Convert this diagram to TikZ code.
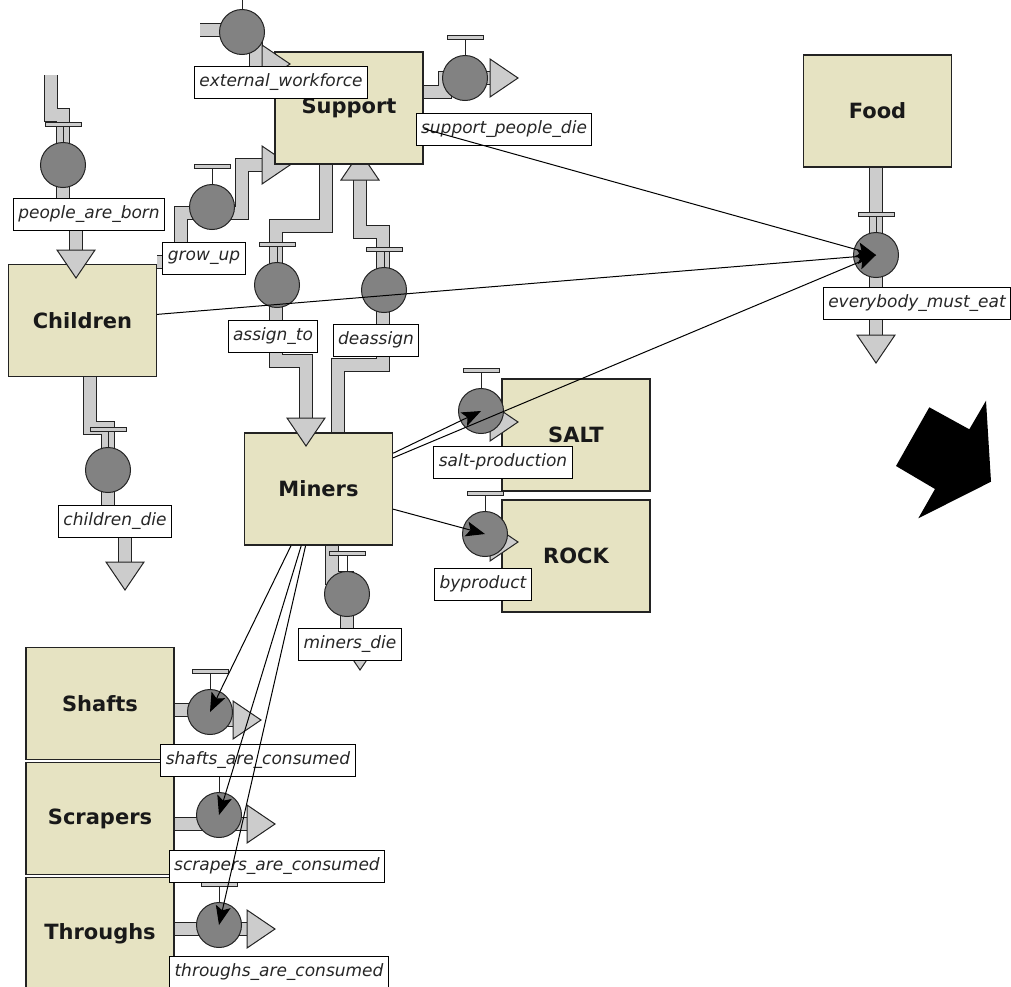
\documentclass[tikz,border=0pt]{standalone}
\usepackage{fontspec}
\setmainfont{DejaVu Sans}
\usetikzlibrary{arrows.meta}
\definecolor{stockfill}{RGB}{230,227,194}
\definecolor{pipegray}{RGB}{204,204,204}
\definecolor{valvegray}{RGB}{130,130,130}
\definecolor{edge}{RGB}{35,35,35}
\tikzstyle{stock} = [rectangle, draw=edge, line width=1.3pt, fill=stockfill, minimum width=148pt,
minimum height=112pt, inner sep=0pt, font=\bfseries\fontsize{21}{24}\selectfont, text=black!90]
\tikzstyle{valve} = [circle, draw=edge, line width=1pt, fill=valvegray, minimum size=45pt, inner sep=0pt]
\tikzstyle{flowlabel} = [rectangle, draw=black, line width=1pt, fill=white, minimum height=32pt,
inner xsep=5pt, inner ysep=0pt, font=\itshape\fontsize{17}{20}\selectfont, text=black!85]
\tikzstyle{pipe} = [double=pipegray, double distance=12pt, line width=1pt, draw=edge, line join=miter]
\tikzstyle{headstyle} = [fill=pipegray, draw=edge, line width=1pt, line join=miter]
\tikzstyle{handle} = [draw=edge, line width=1pt]
\tikzstyle{link} = [line width=1pt, -{Stealth[length=19pt,width=15pt,inset=4pt]}]
\tikzset{flowhead/.pic={\draw[headstyle] (0,-19) -- (28,0) -- (0,19) -- cycle;}}
\newcommand{\valvetop}[1]{%
  \draw[handle] (#1.north) -- ([yshift=16pt]#1.north);
  \draw[handle, fill=pipegray] ([xshift=-18pt,yshift=16pt]#1.north) rectangle ([xshift=18pt,yshift=19.5pt]#1.north);}

\begin{document}
\begin{tikzpicture}[x=1pt,y=-1pt]
        \useasboundingbox (0,0) rectangle (1011,986);

        % pipes of the flows
        \draw[pipe] (200,30) -- (256,30) -- (256,64) -- (264,64);
        \draw[pipe] (423,92) -- (445,92) -- (445,78) -- (492,78);
        \draw[pipe] (157,262) -- (181,262) -- (181,213) -- (242,213) -- (242,165) -- (264,165);
        \draw[pipe] (326,164) -- (326,226) -- (276,226) -- (276,361) -- (306,361) -- (306,420);
        \draw[pipe] (338,433) -- (338,365) -- (383,365) -- (383,232) -- (360,232) -- (360,178);
        \draw[pipe] (51,75) -- (51,115) -- (63,115) -- (63,214) -- (76,214) -- (76,252);
        \draw[pipe] (90,376) -- (90,428) -- (108,428) -- (108,521) -- (125,521) -- (125,564);
        \draw[pipe] (876,167) -- (876,337);
        \draw[pipe] (332,545) -- (332,578) -- (347,578) -- (347,640) -- (360,640) -- (360,644);
        \draw[pipe] (174,710) -- (210,710) -- (210,720) -- (235,720);
        \draw[pipe] (174,824) -- (249,824);
        \draw[pipe] (174,929) -- (249,929);
        \draw[pipe] (481,422) -- (492,422);
        \draw[pipe] (485,542) -- (492,542);

        % these two heads go under Support
        \pic at (262,165) {flowhead};
        \pic[rotate=90] at (360,180) {flowhead};

        \node[stock] (Sup) at (349,108) {Support};
        \node[stock] (Food) at (877.5,111) {Food};
        \node[stock] (Chi) at (82.5,320.5) {Children};
        \node[stock] (Min) at (318.5,489) {Miners};
        \node[stock] (Salt) at (576,435) {SALT};
        \node[stock] (Rock) at (576,556) {ROCK};
        \node[stock] (Sha) at (100,703.5) {Shafts};
        \node[stock] (Scr) at (100,818.5) {Scrapers};
        \node[stock] (Thr) at (100,933.5) {Throughs};

        \pic at (262,64) {flowhead};
        \pic at (490,78) {flowhead};
        \pic[rotate=-90] at (306,418) {flowhead};
        \pic[rotate=-90] at (76,250) {flowhead};
        \pic[rotate=-90] at (125,562) {flowhead};
        \pic[rotate=-90] at (876,335) {flowhead};
        \pic[rotate=-90] at (360,642) {flowhead};
        \pic at (490,422) {flowhead};
        \pic at (490,542) {flowhead};
        \pic at (233,720) {flowhead};
        \pic at (247,824) {flowhead};
        \pic at (247,929) {flowhead};

        % valves
        \foreach \n/\x/\y in {vWork/242/32, vSupDie/465/78, vBorn/63/165, vGrow/212/207,
            vAssign/277/285, vDeassign/384/290, vChiDie/108/470, vEat/876/255, vSalt/481/411,
            vByprod/485/534, vMinDie/347/594, vShafts/210/712, vScrapers/219/815, vThroughs/219/925}
            {\node[valve] (\n) at (\x,\y) {};
             \valvetop{\n}}

        \node[flowlabel] (lWork) at (281,82) {external\_workforce};
        \node[flowlabel] (lSupDie) at (504,129) {support\_people\_die};
        \node[flowlabel] (lBorn) at (89,214) {people\_are\_born};
        \node[flowlabel] (lGrow) at (204,258) {grow\_up};
        \node[flowlabel] (lAssign) at (273,336) {assign\_to};
        \node[flowlabel] (lDeassign) at (376,340) {deassign};
        \node[flowlabel] (lChiDie) at (115,521) {children\_die};
        \node[flowlabel] (lEat) at (917,303) {everybody\_must\_eat};
        \node[flowlabel] (lSalt) at (503,462) {salt-production};
        \node[flowlabel] (lByprod) at (483,584) {byproduct};
        \node[flowlabel] (lMinDie) at (350,644) {miners\_die};
        \node[flowlabel] (lShafts) at (258,760) {shafts\_are\_consumed};
        \node[flowlabel] (lScrapers) at (277,866) {scrapers\_are\_consumed};
        \node[flowlabel] (lThroughs) at (279,972) {throughs\_are\_consumed};

        % information links
        \draw[link] (Sup) -- (vEat.center);
        \draw[link] (Chi) -- (vEat.center);
        \draw[link] (Min) -- (vEat.center);
        \draw[link] (Min) -- (vSalt.center);
        \draw[link] (Min) -- (vByprod.center);
        \draw[link] (Min) -- (vShafts.center);
        \draw[link] (Min) -- (vScrapers.center);
        \draw[link] (Min) -- (vThroughs.center);

        \fill (929.3,407.3) -- (969.3,429.3) -- (986,400.7) -- (991,481.7) -- (918.3,518.3) -- (935,489) -- (896,466) -- cycle;

    \end{tikzpicture}
\end{document}
